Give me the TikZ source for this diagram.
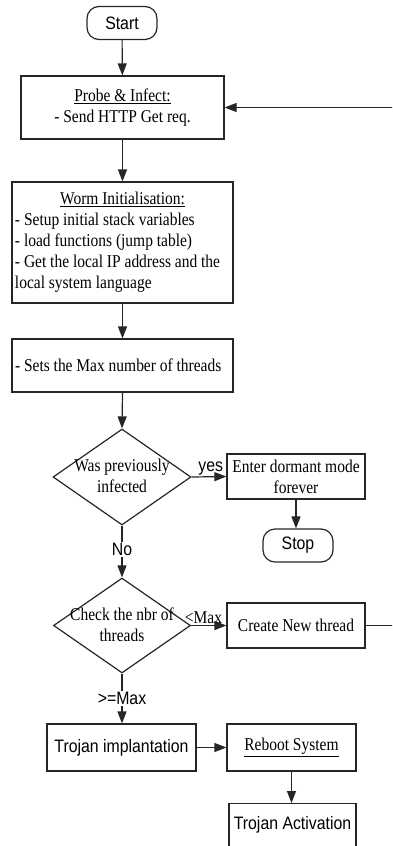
\documentclass[tikz,border=0pt]{standalone}
\usepackage{fontspec}
\setmainfont{Liberation Serif}[FakeStretch=0.86]
\setsansfont{Liberation Sans}[FakeStretch=0.88]
\usetikzlibrary{shapes.geometric,arrows.meta}
\newcommand\mysize{\fontsize{18}{21}\selectfont}
\tikzset{
  box/.style={draw=black!85, line width=1.2pt, rectangle, inner sep=0pt, align=center, font=\mysize\rmfamily},
  term/.style={draw=black!85, line width=1.2pt, rectangle, rounded corners=12pt, inner sep=0pt,
     minimum width=70pt, minimum height=33pt, font=\mysize\sffamily},
  dia/.style={draw=black!85, line width=1.2pt, diamond, inner sep=0pt},
  dtext/.style={align=center, font=\mysize\rmfamily, inner sep=0pt},
  arr/.style={-{Triangle[length=12pt,width=9pt]}, line width=1.2pt, draw=black!85},
  slbl/.style={font=\mysize\sffamily, inner sep=1pt},
  rlbl/.style={font=\mysize\rmfamily, inner sep=1pt},
}
\begin{document}
\begin{tikzpicture}[x=1pt,y=-1pt]
\useasboundingbox (0,0) rectangle (392,846);
\clip (0,0) rectangle (392,846);
% nodes
\node[term] (start) at (122,23) {Start};
\node[box, minimum width=203pt, minimum height=63pt] (probe) at (122.5,107.5)
  {\underline{Probe \& Infect:}\\- Send HTTP Get req.};
\node[box, minimum width=221pt, minimum height=121pt] (worm) at (122.5,242.5)
  {\parbox{215pt}{\centering\underline{Worm Initialisation:}\par\raggedright
   - Setup initial stack variables\\- load functions (jump table)\\- Get the local IP address and the\\local system language}};
\node[box, minimum width=221pt, minimum height=53pt] (sets) at (122.5,365.5)
  {\parbox{215pt}{\raggedright - Sets the Max number of threads}};
\node[dia, minimum width=138pt, minimum height=96pt] (d1) at (122,477) {};
\node[dtext] (d1t) at (122,476) {Was previously\\infected};
\node[box, minimum width=138pt, minimum height=45pt] (dorm) at (296,476.5) {Enter dormant mode\\forever};
\node[term] (stop) at (298,545.5) {Stop};
\node[dia, minimum width=137pt, minimum height=95pt] (d2) at (122,625.5) {};
\node[dtext] (d2t) at (122,624.5) {Check the nbr of\\threads};
\node[box, minimum width=138pt, minimum height=45pt] (create) at (296,625.5) {Create New thread};
\node[box, minimum width=149pt, minimum height=47pt, font=\mysize\sffamily] (troj) at (121.5,747.5) {Trojan implantation};
\node[box, minimum width=129pt, minimum height=47pt] (reboot) at (291.5,747.5) {\underline{Reboot System}};
\node[box, minimum width=127pt, anchor=north, text height=26pt, text depth=60pt, font=\mysize\sffamily] (act) at (292.5,803) {Trojan Activation};
\coordinate (loopx) at (440,0);
% connectors
\draw[arr] (start) -- (probe);
\draw[arr] (probe.south) -- (probe.south |- worm.north);
\draw[arr] (worm) -- (sets);
\draw[arr] (sets.south) -- (d1.north);
\draw[arr] (d1.east) -- node[slbl, above, pos=0.55] {yes} (dorm.west);
\draw[arr] (dorm.south) -- (dorm.south |- stop.north);
\draw[arr] (d1.south) -- node[slbl, fill=white, pos=0.46] {No} (d2.north);
\draw[arr] (d2.east) -- node[rlbl, above, pos=0.35] {<Max} (create.west);
\draw[arr] (d2.south) -- node[slbl, fill=white, pos=0.5] {>=Max} (troj.north -| d2.south);
\draw[arr] (troj) -- (reboot);
\draw[arr] (reboot.south) -- (reboot.south |- act.north);
\draw[arr] (create.east) -- (create.east -| loopx) |- (probe.east);
\end{tikzpicture}
\end{document}
